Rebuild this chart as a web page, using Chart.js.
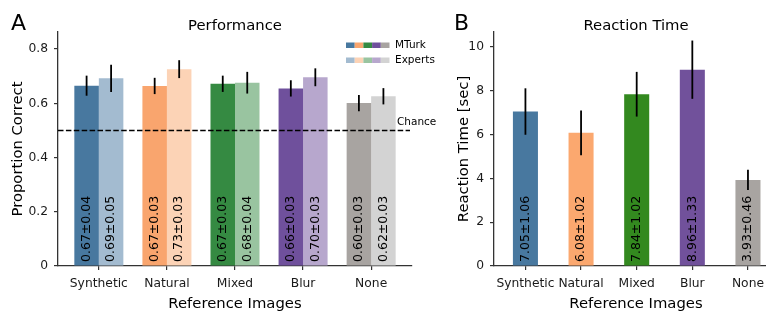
<!DOCTYPE html>
<html>
<head>
<meta charset="utf-8">
<script src="https://cdn.jsdelivr.net/npm/chart.js@4.4.1/dist/chart.umd.min.js"></script>
<style>
  html, body { margin: 0; padding: 0; background: #fff; overflow: hidden; width: 766px; height: 314px; }
  .panel { position: absolute; top: 0; }
</style>
</head>
<body>
<div class="panel" style="left:0px"><canvas id="perf" width="440" height="314"></canvas></div>
<div class="panel" style="left:440px"><canvas id="rt" width="338" height="314"></canvas></div>
<script>
// data
const categories = ["Synthetic", "Natural", "Mixed", "Blur", "None"];

const mturkMean = [0.665, 0.664, 0.672, 0.655, 0.601];
const mturkErr = [0.037, 0.030, 0.030, 0.030, 0.030];
const mturkText = ["0.67±0.04", "0.67±0.03", "0.67±0.03", "0.66±0.03", "0.60±0.03"];

const expertMean = [0.692, 0.726, 0.676, 0.696, 0.626];
const expertErr = [0.050, 0.033, 0.040, 0.033, 0.030];
const expertText = ["0.69±0.05", "0.73±0.03", "0.68±0.04", "0.70±0.03", "0.62±0.03"];

const perfTicks = [0, 0.2, 0.4, 0.6, 0.8];
const perfTickLabels = ["0", "0.2", "0.4", "0.6", "0.8"];
const chanceLevel = 0.5;

const rtMean = [7.05, 6.08, 7.84, 8.96, 3.93];
const rtErr = [1.06, 1.02, 1.02, 1.33, 0.46];
const rtText = ["7.05±1.06", "6.08±1.02", "7.84±1.02", "8.96±1.33", "3.93±0.46"];
const rtTicks = [0, 2, 4, 6, 8, 10];

const mturkColors = ["#48789f", "#f9a56e", "#358a42", "#6f509c", "#a8a4a1"];
const expertColors = ["#a3bbd0", "#fcd3b6", "#99c4a0", "#b7a7cd", "#d3d3d3"];
const rtColors = ["#48789f", "#fba86f", "#33891f", "#71519b", "#a8a4a1"];

const FONT = "DejaVu Sans";
const INK = "#1a1a1a";
const AXIS = "#333";

function xScale(min, max) {
  return {
    type: "linear",
    min: min,
    max: max,
    offset: false,
    afterBuildTicks: (s) => { s.ticks = categories.map((c, i) => ({ value: i })); },
    afterFit: (s) => { s.height = 48; s.paddingLeft = 0; s.paddingRight = 0; },
    ticks: {
      autoSkip: false, maxRotation: 0, padding: 6, color: INK,
      font: { family: FONT, size: 12.3 },
      callback: (v) => categories[Math.round(v)],
    },
    grid: { offset: false, drawOnChartArea: false, tickLength: 4, color: AXIS, lineWidth: 1.2 },
    border: { display: true, color: AXIS, width: 1.3 },
  };
}

function yScale(max, ticks, labels, width) {
  return {
    min: 0,
    max: max,
    afterBuildTicks: (s) => { s.ticks = ticks.map((v) => ({ value: v })); },
    afterFit: (s) => { s.width = width; s.paddingTop = 0; s.paddingBottom = 0; },
    ticks: {
      padding: 6, color: INK,
      font: { family: FONT, size: 12.3 },
      callback: (v) => labels[ticks.indexOf(v)] ?? String(v),
    },
    grid: { drawOnChartArea: false, tickLength: 4, color: AXIS, lineWidth: 1.2 },
    border: { display: true, color: AXIS, width: 1.3 },
  };
}

// error bars + rotated value text, per dataset
function barExtras(errs, texts) {
  return {
    id: "barExtras",
    afterDatasetsDraw(chart) {
      const ctx = chart.ctx;
      const y = chart.scales.y;
      chart.data.datasets.forEach((ds, d) => {
        const meta = chart.getDatasetMeta(d);
        meta.data.forEach((bar, i) => {
          const v = ds.data[i].y;
          const e = errs[d][i];
          ctx.save();
          ctx.strokeStyle = "#000";
          ctx.lineWidth = 1.8;
          ctx.beginPath();
          ctx.moveTo(bar.x, y.getPixelForValue(v - e));
          ctx.lineTo(bar.x, y.getPixelForValue(v + e));
          ctx.stroke();
          ctx.translate(bar.x, chart.chartArea.bottom - 4);
          ctx.rotate(-Math.PI / 2);
          ctx.fillStyle = "#000";
          ctx.font = "12.5px '" + FONT + "'";
          ctx.textAlign = "left";
          ctx.textBaseline = "middle";
          ctx.fillText(texts[d][i], 0, 0);
          ctx.restore();
        });
      });
    },
  };
}

function panelText(letter, title, ylabel, ylabelX) {
  return {
    id: "panelText",
    afterDraw(chart) {
      const ctx = chart.ctx;
      const a = chart.chartArea;
      const cx = (a.left + a.right) / 2;
      ctx.save();
      ctx.fillStyle = "#000";
      ctx.textBaseline = "alphabetic";
      ctx.font = "22px '" + FONT + "'";
      ctx.textAlign = "left";
      ctx.fillText(letter, letter === "A" ? 11 : 14, 30);
      ctx.font = "14.8px '" + FONT + "'";
      ctx.textAlign = "center";
      ctx.fillText(title, cx, 30);
      ctx.fillText("Reference Images", cx, 308);
      ctx.translate(ylabelX, (a.top + a.bottom) / 2);
      ctx.rotate(-Math.PI / 2);
      ctx.fillText(ylabel, 0, 0);
      ctx.restore();
    },
  };
}

const perfDecor = {
  id: "perfDecor",
  afterDatasetsDraw(chart) {
    const ctx = chart.ctx;
    const a = chart.chartArea;
    const yy = chart.scales.y.getPixelForValue(chanceLevel);
    ctx.save();
    ctx.strokeStyle = "#000";
    ctx.lineWidth = 1.5;
    ctx.setLineDash([5.5, 2.4]);
    ctx.beginPath();
    ctx.moveTo(a.left, yy);
    ctx.lineTo(a.right - 2, yy);
    ctx.stroke();
    ctx.setLineDash([]);
    ctx.fillStyle = "#000";
    ctx.font = "10.5px '" + FONT + "'";
    ctx.textAlign = "left";
    ctx.textBaseline = "middle";
    ctx.fillText("Chance", a.right - 15, yy - 8);
    // legend
    const lx = 346, w = 8.7, h = 5.5;
    mturkColors.forEach((c, i) => { ctx.fillStyle = c; ctx.fillRect(lx + i * w, 42.5, w, h); });
    expertColors.forEach((c, i) => { ctx.fillStyle = c; ctx.fillRect(lx + i * w, 57.5, w, h); });
    ctx.fillStyle = "#000";
    ctx.fillText("MTurk", 395, 45.5);
    ctx.fillText("Experts", 395, 60.5);
    ctx.restore();
  },
};

new Chart(document.getElementById("perf"), {
  type: "bar",
  data: {
    datasets: [
      {
        label: "MTurk",
        data: categories.map((c, i) => ({ x: i, y: mturkMean[i] })),
        backgroundColor: mturkColors,
        categoryPercentage: 0.72,
        barPercentage: 1.0,
      },
      {
        label: "Experts",
        data: categories.map((c, i) => ({ x: i, y: expertMean[i] })),
        backgroundColor: expertColors,
        categoryPercentage: 0.72,
        barPercentage: 1.0,
      },
    ],
  },
  options: {
    responsive: false,
    animation: false,
    devicePixelRatio: 1,
    layout: { padding: { left: 0, right: 28, top: 32, bottom: 0 } },
    plugins: { legend: { display: false }, tooltip: { enabled: false } },
    scales: {
      x: xScale(-0.6, 4.6),
      y: yScale(0.863, perfTicks, perfTickLabels, 58),
    },
  },
  plugins: [barExtras([mturkErr, expertErr], [mturkText, expertText]), perfDecor, panelText("A", "Performance", "Proportion Correct", 22)],
});

new Chart(document.getElementById("rt"), {
  type: "bar",
  data: {
    datasets: [
      {
        label: "Reaction Time",
        data: categories.map((c, i) => ({ x: i, y: rtMean[i] })),
        backgroundColor: rtColors,
        categoryPercentage: 0.45,
        barPercentage: 1.0,
      },
    ],
  },
  options: {
    responsive: false,
    animation: false,
    devicePixelRatio: 1,
    layout: { padding: { left: 0, right: 0, top: 32, bottom: 0 } },
    plugins: { legend: { display: false }, tooltip: { enabled: false } },
    scales: {
      x: xScale(-0.565, 4.54),
      y: yScale(10.68, rtTicks, rtTicks.map(String), 54),
    },
  },
  plugins: [barExtras([rtErr], [rtText]), panelText("B", "Reaction Time", "Reaction Time [sec]", 28)],
});
</script>
</body>
</html>
